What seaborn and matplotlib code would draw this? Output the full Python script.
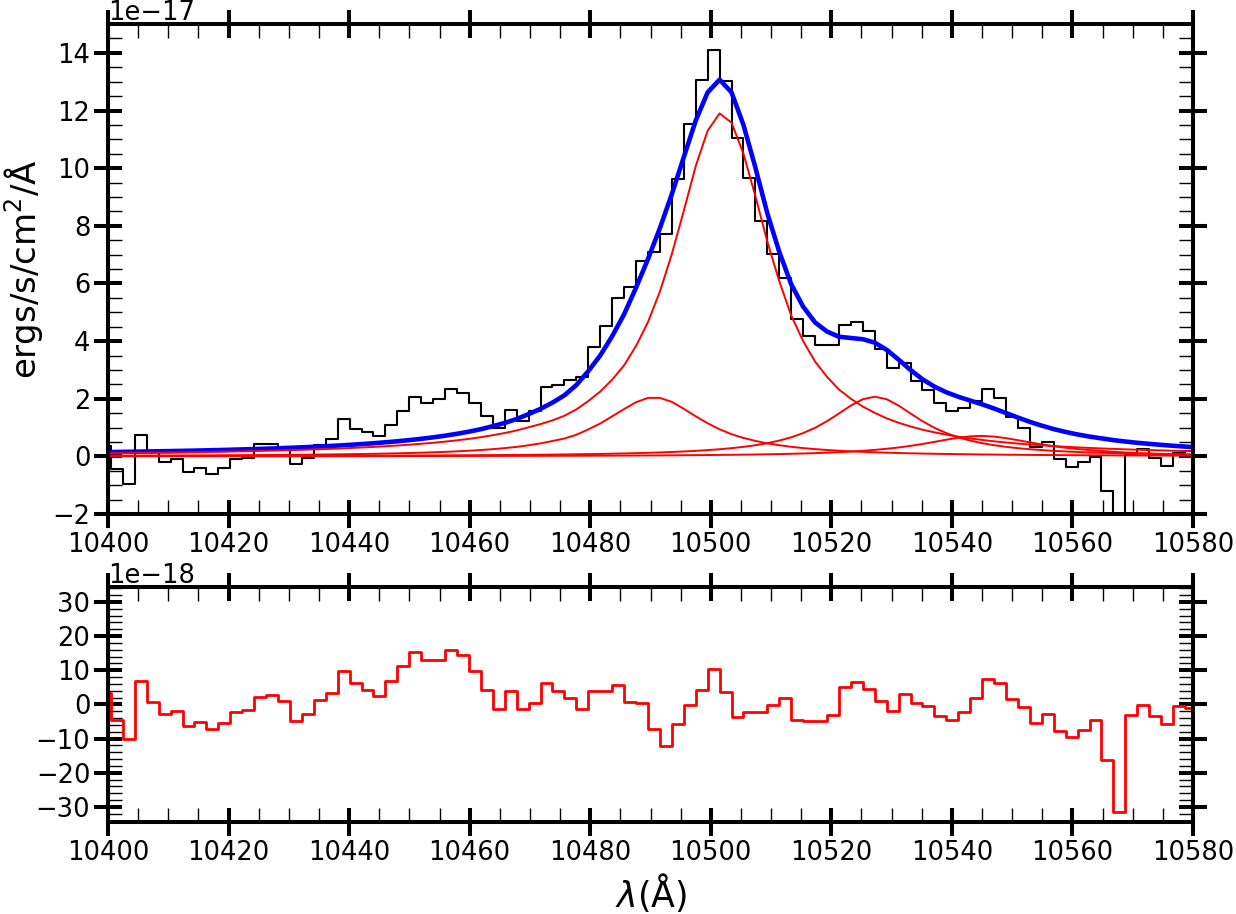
import numpy as np
import pandas as pd
import matplotlib
matplotlib.use("Agg")
import matplotlib.pyplot as plt
import seaborn as sns
from matplotlib.ticker import MultipleLocator

# wavelength grid (Angstrom)
wave = [
    10398.50, 10400.48, 10402.46, 10404.44, 10406.42, 10408.40, 10410.38, 10412.36, 10414.34, 10416.32,
    10418.30, 10420.28, 10422.26, 10424.24, 10426.22, 10428.20, 10430.18, 10432.16, 10434.14, 10436.12,
    10438.10, 10440.08, 10442.06, 10444.04, 10446.02, 10448.00, 10449.98, 10451.96, 10453.94, 10455.92,
    10457.90, 10459.88, 10461.86, 10463.84, 10465.82, 10467.80, 10469.78, 10471.76, 10473.74, 10475.72,
    10477.70, 10479.68, 10481.66, 10483.64, 10485.62, 10487.60, 10489.58, 10491.56, 10493.54, 10495.52,
    10497.50, 10499.48, 10501.46, 10503.44, 10505.42, 10507.40, 10509.38, 10511.36, 10513.34, 10515.32,
    10517.30, 10519.28, 10521.26, 10523.24, 10525.22, 10527.20, 10529.18, 10531.16, 10533.14, 10535.12,
    10537.10, 10539.08, 10541.06, 10543.04, 10545.02, 10547.00, 10548.98, 10550.96, 10552.94, 10554.92,
    10556.90, 10558.88, 10560.86, 10562.84, 10564.82, 10566.80, 10568.78, 10570.76, 10572.74, 10574.72,
    10576.70, 10578.68, 10580.66,
]

# observed flux, units of 1e-17 ergs/s/cm^2/A
flux = [
    0.36, 0.36, -0.45, -0.95, 0.74, 0.15, -0.20, -0.10, -0.55, -0.42,
    -0.60, -0.42, -0.08, -0.05, 0.42, 0.42, 0.30, -0.28, -0.07, 0.40,
    0.62, 1.31, 0.94, 0.83, 0.69, 1.09, 1.58, 2.07, 1.85, 1.99,
    2.33, 2.21, 1.86, 1.41, 0.97, 1.62, 1.23, 1.58, 2.42, 2.49,
    2.66, 2.77, 3.81, 4.51, 5.48, 5.88, 6.79, 7.10, 7.72, 9.64,
    11.52, 13.06, 14.10, 13.04, 11.06, 9.66, 8.15, 7.02, 6.20, 4.76,
    4.17, 3.87, 3.86, 4.57, 4.66, 4.34, 3.71, 3.07, 3.23, 2.63,
    2.31, 1.84, 1.56, 1.67, 1.93, 2.33, 2.01, 1.35, 0.98, 0.33,
    0.50, -0.08, -0.37, -0.20, -0.02, -1.19, -2.70, 0.05, 0.27, -0.07,
    -0.35, 0.13, 0.20,
]

# total fit (blue), units of 1e-17
fit_total = [
    0.144, 0.150, 0.156, 0.163, 0.169, 0.177, 0.184, 0.192, 0.200, 0.210,
    0.219, 0.230, 0.242, 0.254, 0.268, 0.282, 0.297, 0.315, 0.333, 0.353,
    0.375, 0.400, 0.427, 0.456, 0.489, 0.524, 0.565, 0.610, 0.661, 0.718,
    0.784, 0.858, 0.944, 1.048, 1.161, 1.299, 1.468, 1.649, 1.867, 2.119,
    2.476, 2.959, 3.501, 4.170, 4.930, 5.853, 6.846, 7.921, 9.100, 10.38,
    11.65, 12.63, 13.07, 12.63, 11.50, 10.02, 8.434, 7.095, 5.973, 5.197,
    4.648, 4.332, 4.151, 4.107, 4.066, 3.947, 3.697, 3.357, 2.997, 2.676,
    2.420, 2.224, 2.069, 1.938, 1.805, 1.661, 1.504, 1.347, 1.198, 1.065,
    0.947, 0.847, 0.760, 0.687, 0.625, 0.565, 0.515, 0.472, 0.434, 0.400,
    0.368, 0.340, 0.315,
]

# individual line components (red), units of 1e-17
comp_1 = [
    0.104, 0.109, 0.113, 0.118, 0.122, 0.128, 0.133, 0.139, 0.145, 0.152,
    0.159, 0.167, 0.175, 0.184, 0.194, 0.204, 0.215, 0.228, 0.241, 0.255,
    0.271, 0.289, 0.308, 0.329, 0.352, 0.377, 0.406, 0.437, 0.473, 0.512,
    0.557, 0.608, 0.666, 0.736, 0.810, 0.900, 1.010, 1.120, 1.250, 1.410,
    1.630, 1.920, 2.250, 2.660, 3.160, 3.830, 4.660, 5.720, 7.020, 8.520,
    10.07, 11.30, 11.90, 11.58, 10.50, 9.030, 7.450, 6.080, 4.890, 4.000,
    3.290, 2.760, 2.320, 2.000, 1.730, 1.510, 1.320, 1.167, 1.037, 0.927,
    0.834, 0.753, 0.683, 0.623, 0.570, 0.523, 0.482, 0.445, 0.413, 0.384,
    0.357, 0.334, 0.312, 0.293, 0.276, 0.259, 0.244, 0.231, 0.218, 0.207,
    0.196, 0.186, 0.177,
]
comp_2 = [
    0.024, 0.025, 0.026, 0.027, 0.029, 0.030, 0.031, 0.033, 0.035, 0.037,
    0.039, 0.041, 0.043, 0.046, 0.048, 0.051, 0.055, 0.058, 0.062, 0.067,
    0.072, 0.077, 0.084, 0.090, 0.098, 0.107, 0.117, 0.129, 0.142, 0.157,
    0.175, 0.196, 0.221, 0.251, 0.287, 0.331, 0.385, 0.451, 0.534, 0.620,
    0.750, 0.936, 1.140, 1.390, 1.640, 1.880, 2.030, 2.030, 1.890, 1.650,
    1.390, 1.150, 0.939, 0.770, 0.640, 0.537, 0.453, 0.386, 0.332, 0.288,
    0.252, 0.222, 0.197, 0.176, 0.158, 0.142, 0.129, 0.117, 0.107, 0.098,
    0.091, 0.084, 0.078, 0.072, 0.067, 0.063, 0.058, 0.055, 0.051, 0.048,
    0.046, 0.043, 0.041, 0.039, 0.037, 0.035, 0.033, 0.031, 0.030, 0.029,
    0.027, 0.026, 0.025,
]
comp_3 = [
    0.011, 0.012, 0.012, 0.012, 0.013, 0.013, 0.014, 0.014, 0.015, 0.015,
    0.016, 0.016, 0.017, 0.018, 0.018, 0.019, 0.020, 0.021, 0.021, 0.022,
    0.023, 0.024, 0.026, 0.027, 0.028, 0.029, 0.031, 0.033, 0.034, 0.036,
    0.038, 0.040, 0.043, 0.046, 0.048, 0.052, 0.055, 0.059, 0.063, 0.068,
    0.074, 0.080, 0.086, 0.094, 0.102, 0.113, 0.124, 0.137, 0.153, 0.171,
    0.192, 0.218, 0.248, 0.285, 0.331, 0.388, 0.458, 0.548, 0.661, 0.808,
    0.992, 1.221, 1.488, 1.763, 1.984, 2.070, 1.984, 1.763, 1.488, 1.221,
    0.992, 0.808, 0.661, 0.548, 0.458, 0.388, 0.331, 0.285, 0.248, 0.218,
    0.192, 0.171, 0.153, 0.137, 0.124, 0.113, 0.102, 0.094, 0.086, 0.080,
    0.074, 0.068, 0.063,
]
comp_4 = [
    0.005, 0.005, 0.005, 0.005, 0.005, 0.006, 0.006, 0.006, 0.006, 0.006,
    0.006, 0.007, 0.007, 0.007, 0.007, 0.007, 0.008, 0.008, 0.008, 0.009,
    0.009, 0.009, 0.010, 0.010, 0.010, 0.011, 0.011, 0.012, 0.012, 0.013,
    0.013, 0.014, 0.015, 0.015, 0.016, 0.017, 0.018, 0.019, 0.020, 0.021,
    0.022, 0.023, 0.025, 0.026, 0.028, 0.030, 0.032, 0.034, 0.037, 0.040,
    0.043, 0.047, 0.051, 0.055, 0.060, 0.066, 0.073, 0.081, 0.090, 0.101,
    0.114, 0.129, 0.146, 0.168, 0.194, 0.225, 0.264, 0.310, 0.365, 0.430,
    0.503, 0.579, 0.647, 0.695, 0.710, 0.687, 0.633, 0.562, 0.486, 0.415,
    0.352, 0.299, 0.254, 0.218, 0.188, 0.160, 0.136, 0.116, 0.100, 0.086,
    0.074, 0.064, 0.056,
]

# residuals (data - fit), units of 1e-18
resid = [
    3.4, 3.4, -4.66, -10.0, 6.8, 0.78, -2.9, -1.94, -6.4, -5.15,
    -7.19, -5.44, -2.24, -1.65, 2.33, 2.72, 0.97, -4.86, -2.9, 1.26,
    3.3, 9.7, 6.3, 4.37, 2.62, 6.8, 11.2, 15.3, 12.9, 13.1,
    15.8, 14.5, 9.9, 4.37, -1.46, 3.89, -1.46, 0.3, 6.3, 3.89,
    1.85, -1.46, 3.89, 3.89, 5.64, 0.78, 0.39, -7.1, -12.2, -5.83,
    -0.2, 4.37, 10.5, 3.69, -3.69, -2.24, -2.24, -0.2, 1.85, -4.57,
    -4.86, -4.86, -3.1, 5.05, 6.5, 4.66, 0.97, -1.94, 3.01, 0.29,
    -0.49, -3.5, -4.57, -2.24, 1.85, 7.4, 6.3, 1.55, -0.78, -5.54,
    -2.9, -7.8, -9.5, -7.5, -4.57, -16.3, -31.4, -3.1, -0.2, -3.4,
    -5.83, -0.49, -1.17,
]

sns.set_style("ticks")
plt.rcParams['font.family'] = ['DejaVu Sans']
plt.rcParams['text.color'] = 'black'
plt.rcParams['axes.labelcolor'] = 'black'
plt.rcParams['axes.edgecolor'] = 'black'
plt.rcParams['xtick.color'] = 'black'
plt.rcParams['ytick.color'] = 'black'

w = np.array(wave)
spec = pd.DataFrame({'wave': w, 'flux': np.array(flux) * 1e-17,
                     'fit': np.array(fit_total) * 1e-17,
                     'resid': np.array(resid) * 1e-18})
comps = pd.concat([
    pd.DataFrame({'wave': w, 'flux': np.array(c) * 1e-17, 'comp': k})
    for k, c in enumerate([comp_1, comp_2, comp_3, comp_4])
])

fig = plt.figure(figsize=(12.36, 9.14), dpi=100)
ax1 = fig.add_axes([0.0874, 0.4376, 0.8778, 0.5361])
ax2 = fig.add_axes([0.0874, 0.1007, 0.8778, 0.2571])

# top panel: spectrum, total fit, components
sns.lineplot(data=spec, x='wave', y='flux', color='black', lw=1.5,
             drawstyle='steps-pre', estimator=None, ax=ax1)
sns.lineplot(data=spec, x='wave', y='fit', color='blue', lw=3.3,
             estimator=None, ax=ax1)
sns.lineplot(data=comps, x='wave', y='flux', units='comp', color='red',
             lw=1.4, estimator=None, ax=ax1)

# bottom panel: residuals
sns.lineplot(data=spec, x='wave', y='resid', color='red', lw=2.0,
             drawstyle='steps-pre', estimator=None, ax=ax2)


def style_axis(ax, ymajor, yminor, order):
    ax.set_xlim(10400, 10580)
    ax.xaxis.set_major_locator(MultipleLocator(20))
    ax.xaxis.set_minor_locator(MultipleLocator(5))
    ax.yaxis.set_major_locator(MultipleLocator(ymajor))
    ax.yaxis.set_minor_locator(MultipleLocator(yminor))
    ax.ticklabel_format(axis='x', useOffset=False)
    ax.ticklabel_format(axis='y', style='sci', scilimits=(order, order))
    ax.tick_params(which='major', direction='inout', length=19.5, width=2.9,
                   top=True, right=True, labelsize=18.5, pad=3)
    ax.tick_params(which='minor', direction='in', length=10, width=1.0,
                   top=True, right=True)
    ax.yaxis.get_offset_text().set_fontsize(18.5)
    for s in ax.spines.values():
        s.set_visible(True)
        s.set_linewidth(2.9)
    ax.set_xlabel('')
    ax.set_ylabel('')


style_axis(ax1, 2e-17, 0.5e-17, -17)
ax1.set_ylim(-2e-17, 15e-17)
ax1.set_ylabel('ergs/s/cm$^2$/Å', fontsize=24.5, labelpad=5)

style_axis(ax2, 10e-18, 2e-18, -18)
ax2.set_ylim(-34.4e-18, 34.4e-18)
ax2.set_xlabel(r'$\lambda$(Å)', fontsize=25, labelpad=4)

fig.savefig('out.png', dpi=100)
